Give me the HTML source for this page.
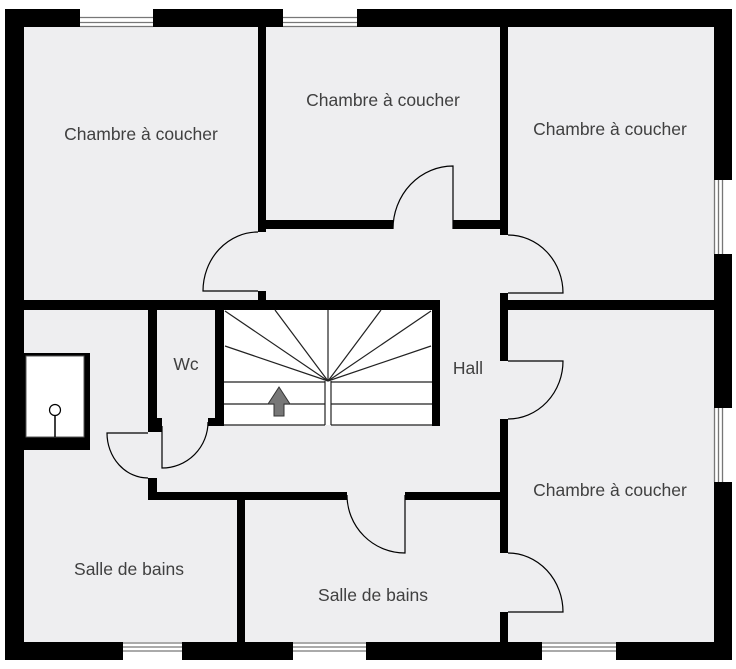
<!DOCTYPE html>
<html><head><meta charset="utf-8"><style>
html,body{margin:0;padding:0;background:#fff;}
svg{display:block;}
text{font-family:"Liberation Sans",sans-serif;font-size:17.5px;fill:#404040;}
</style></head><body>
<svg width="736" height="669" viewBox="0 0 736 669" xmlns="http://www.w3.org/2000/svg">
<rect x="24" y="27" width="690" height="615" fill="#eeeef0"/>
<rect x="224" y="310" width="208" height="115" fill="#fff"/>
<rect x="24" y="353" width="66" height="97" fill="#000"/>
<rect x="26" y="356" width="58" height="81" fill="#fff" stroke="#555" stroke-width="1"/>
<circle cx="55" cy="410" r="5.5" fill="#fff" stroke="#000" stroke-width="1.2"/>
<line x1="55" y1="415" x2="55" y2="437" stroke="#000" stroke-width="1.5"/>

<g fill="#000">
<rect x="5" y="9" width="75" height="18"/>
<rect x="153" y="9" width="130" height="18"/>
<rect x="357" y="9" width="375" height="18"/>
<rect x="5" y="9" width="19" height="651"/>
<rect x="714" y="9" width="18" height="171"/>
<rect x="714" y="254" width="18" height="154"/>
<rect x="714" y="482" width="18" height="178"/>
<rect x="5" y="642" width="118" height="18"/>
<rect x="182" y="642" width="111" height="18"/>
<rect x="366" y="642" width="176" height="18"/>
<rect x="616" y="642" width="116" height="18"/>
<rect x="258" y="27" width="8" height="205"/>
<rect x="258" y="291" width="8" height="19"/>
<rect x="24" y="300" width="234" height="10"/>
<rect x="266" y="220" width="127" height="9"/>
<rect x="453" y="220" width="55" height="9"/>
<rect x="500" y="27" width="8" height="208"/>
<rect x="500" y="293" width="8" height="68"/>
<rect x="500" y="419" width="8" height="134"/>
<rect x="500" y="612" width="8" height="30"/>
<rect x="508" y="300" width="206" height="10"/>
<rect x="215" y="300" width="225" height="10"/>
<rect x="215" y="300" width="9" height="126"/>
<rect x="432" y="300" width="8" height="126"/>
<rect x="208" y="418" width="16" height="8"/>
<rect x="148" y="310" width="9" height="122"/>
<rect x="148" y="418" width="14" height="14"/>
<rect x="148" y="478" width="9" height="22"/>
<rect x="148" y="492" width="199" height="8"/>
<rect x="405" y="492" width="95" height="8"/>
<rect x="237" y="500" width="8" height="142"/>
</g>

<g stroke="#777" stroke-width="1.3">
<line x1="80" y1="17.5" x2="153" y2="17.5"/><line x1="80" y1="22.5" x2="153" y2="22.5"/><line x1="80" y1="26.5" x2="153" y2="26.5"/>
<line x1="283" y1="17.5" x2="357" y2="17.5"/><line x1="283" y1="22.5" x2="357" y2="22.5"/><line x1="283" y1="26.5" x2="357" y2="26.5"/>
<line x1="123" y1="643" x2="182" y2="643"/><line x1="123" y1="647" x2="182" y2="647"/><line x1="123" y1="651" x2="182" y2="651"/>
<line x1="293" y1="643" x2="366" y2="643"/><line x1="293" y1="647" x2="366" y2="647"/><line x1="293" y1="651" x2="366" y2="651"/>
<line x1="542" y1="643" x2="616" y2="643"/><line x1="542" y1="647" x2="616" y2="647"/><line x1="542" y1="651" x2="616" y2="651"/>
<line x1="714.5" y1="180" x2="714.5" y2="254"/><line x1="718.5" y1="180" x2="718.5" y2="254"/><line x1="722.5" y1="180" x2="722.5" y2="254"/>
<line x1="714.5" y1="408" x2="714.5" y2="482"/><line x1="718.5" y1="408" x2="718.5" y2="482"/><line x1="722.5" y1="408" x2="722.5" y2="482"/>
</g>

<g fill="none" stroke="#000" stroke-width="1.2">
<path d="M258 291 L203 291 A55 59 0 0 1 258 232"/>
<path d="M453 229 L453 166 A60 63 0 0 0 393 229"/>
<path d="M508 293 L563 293 A55 58 0 0 0 508 235"/>
<path d="M508 361 L563 361 A55 58 0 0 1 508 419"/>
<path d="M508 612 L563 612 A55 59 0 0 0 508 553"/>
<path d="M405 495 L405 553 A58 58 0 0 1 347 495"/>
<path d="M162 426 L162 468 A46 46 0 0 0 208 422"/>
<path d="M148 433 L107 433 A41 45 0 0 0 148 478"/>
</g>

<g stroke="#222" stroke-width="1.2" fill="none">
<line x1="328" y1="310" x2="328" y2="381"/>
<line x1="325" y1="381" x2="325" y2="425"/>
<line x1="331" y1="381" x2="331" y2="425"/>
<line x1="224" y1="382" x2="325" y2="382"/>
<line x1="331" y1="382" x2="432" y2="382"/>
<line x1="224" y1="404" x2="325" y2="404"/>
<line x1="331" y1="404" x2="432" y2="404"/>
<line x1="224" y1="425" x2="325" y2="425"/>
<line x1="331" y1="425" x2="432" y2="425"/>
<line x1="328" y1="381" x2="225" y2="311"/>
<line x1="328" y1="381" x2="275" y2="310"/>
<line x1="328" y1="381" x2="225" y2="346"/>
<line x1="328" y1="381" x2="431" y2="311"/>
<line x1="328" y1="381" x2="381" y2="310"/>
<line x1="328" y1="381" x2="431" y2="346"/>
</g>
<polygon points="279,387 290,404 284,404 284,416 274,416 274,404 268,404" fill="#777" stroke="#333" stroke-width="1"/>

<text x="141" y="140" text-anchor="middle">Chambre à coucher</text>
<text x="383" y="106" text-anchor="middle">Chambre à coucher</text>
<text x="610" y="135" text-anchor="middle">Chambre à coucher</text>
<text x="186" y="370" text-anchor="middle">Wc</text>
<text x="468" y="374" text-anchor="middle">Hall</text>
<text x="610" y="496" text-anchor="middle">Chambre à coucher</text>
<text x="129" y="575" text-anchor="middle">Salle de bains</text>
<text x="373" y="601" text-anchor="middle">Salle de bains</text>
</svg>
</body></html>
